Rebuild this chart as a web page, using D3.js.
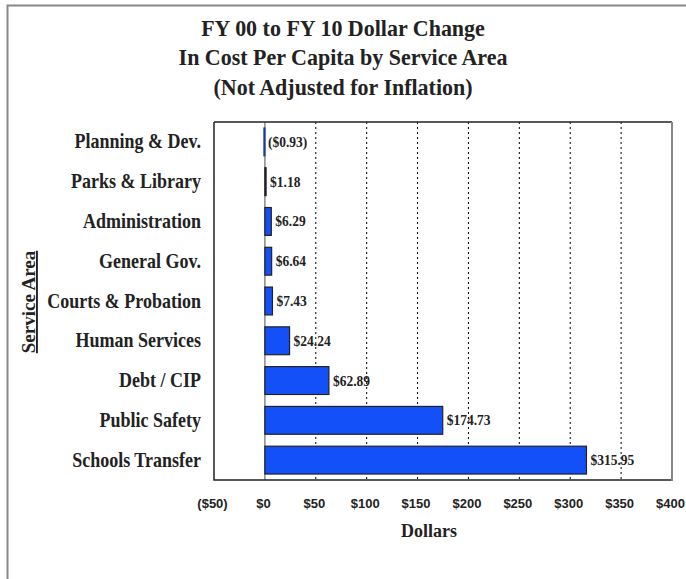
<!DOCTYPE html>
<html><head><meta charset="utf-8">
<script src="https://cdn.jsdelivr.net/npm/d3@7"></script>
<style>body{margin:0;background:#fff;} svg{display:block;}</style>
</head><body>
<script>
const categories = ["Planning & Dev.","Parks & Library","Administration","General Gov.","Courts & Probation","Human Services","Debt / CIP","Public Safety","Schools Transfer"];
const values = [-0.93, 1.18, 6.29, 6.64, 7.43, 24.24, 62.89, 174.73, 315.95];
const tickValues = [-50, 0, 50, 100, 150, 200, 250, 300, 350, 400];
const titleLines = ["FY 00 to FY 10 Dollar Change","In Cost Per Capita by Service Area","(Not Adjusted for Inflation)"];

const W = 686, H = 579;
const svg = d3.select("body").append("svg").attr("width", W).attr("height", H);
const serif = "'Liberation Serif','Times New Roman',serif";
const sans = "'Liberation Sans',Arial,sans-serif";

// outer frame
svg.append("path").attr("d", `M7.5,${H} V5.5 H${W}`).attr("fill","none").attr("stroke","#888").attr("stroke-width",2);

const m = {left:214, right:672, top:122, bottom:480};
const x = d3.scaleLinear().domain([-50,400]).range([m.left, m.right]);
const y = d3.scaleBand().domain(categories).range([m.top, m.bottom]).paddingInner(0.3).paddingOuter(0.15);

// title
svg.append("g").selectAll("text").data(titleLines).join("text")
  .attr("transform",(d,i)=>`translate(343,${35.5 + i*29.5}) scale(1,1.08)`)
  .attr("text-anchor","middle").attr("font-family",serif).attr("font-weight","bold")
  .attr("font-size",22).attr("fill","#222").text(d=>d);

// gridlines
svg.append("g").selectAll("line").data(tickValues.filter(t=>t>0 && t<400)).join("line")
  .attr("x1",d=>x(d)).attr("x2",d=>x(d)).attr("y1",m.top).attr("y2",m.bottom)
  .attr("stroke","#000").attr("stroke-width",1).attr("stroke-dasharray","2,3");

// zero line
svg.append("line").attr("x1",x(0)).attr("x2",x(0)).attr("y1",m.top).attr("y2",m.bottom)
  .attr("stroke","#888").attr("stroke-width",1.5);

// bars
svg.append("g").selectAll("rect").data(values).join("rect")
  .attr("x",d=>x(Math.min(0,d))).attr("width",d=>Math.abs(x(d)-x(0)))
  .attr("y",(d,i)=>y(categories[i])).attr("height",y.bandwidth())
  .attr("fill","#1450F8").attr("stroke",(d,i)=>i===0?"#1a3aa0":"#222").attr("stroke-width",1.2);

// value labels
const fmt = v => v<0 ? "($"+Math.abs(v).toFixed(2)+")" : "$"+v.toFixed(2);
svg.append("g").selectAll("text").data(values).join("text")
  .attr("transform",(d,i)=>`translate(${x(Math.max(0,d)) + (d<0?3:4)},${y(categories[i])+y.bandwidth()/2+5}) scale(1,1.1)`)
  .attr("font-family",serif).attr("font-weight","bold").attr("font-size",13.5).attr("fill","#222")
  .text(fmt);

// plot frame
svg.append("path").attr("d",`M${m.left},${m.top} H${m.right} M${m.left},${m.top} V${m.bottom} H${m.right}`)
  .attr("fill","none").attr("stroke","#222").attr("stroke-width",1.5);
svg.append("line").attr("x1",m.right).attr("x2",m.right).attr("y1",m.top).attr("y2",m.bottom+1)
  .attr("stroke","#888").attr("stroke-width",2);

// category labels
svg.append("g").selectAll("text").data(categories).join("text")
  .attr("transform",d=>`translate(201,${y(d)+y.bandwidth()/2+6.5}) scale(1,1.12)`)
  .attr("text-anchor","end").attr("font-family",serif).attr("font-weight","bold")
  .attr("font-size",18).attr("fill","#222").text(d=>d);

// x axis labels
const xAxis = d3.axisBottom(x).tickValues(tickValues).tickSize(0).tickPadding(0)
  .tickFormat(d=> d<0 ? "($"+Math.abs(d)+")" : "$"+d);
const gx = svg.append("g").attr("transform",`translate(-2,${m.bottom+19})`).call(xAxis);
gx.select(".domain").remove();
gx.selectAll("text").attr("font-family",sans).attr("font-weight","bold").attr("font-size",13).attr("fill","#222");

// axis titles
svg.append("text").attr("transform","translate(429,537) scale(1,1.05)").attr("text-anchor","middle")
  .attr("font-family",serif).attr("font-weight","bold").attr("font-size",18).attr("fill","#222").text("Dollars");
svg.append("text").attr("transform","translate(35,302) rotate(-90)").attr("text-anchor","middle")
  .attr("font-family",serif).attr("font-weight","bold").attr("font-size",19).attr("fill","#222")
  .attr("text-decoration","underline").text("Service Area");
</script>
</body></html>
